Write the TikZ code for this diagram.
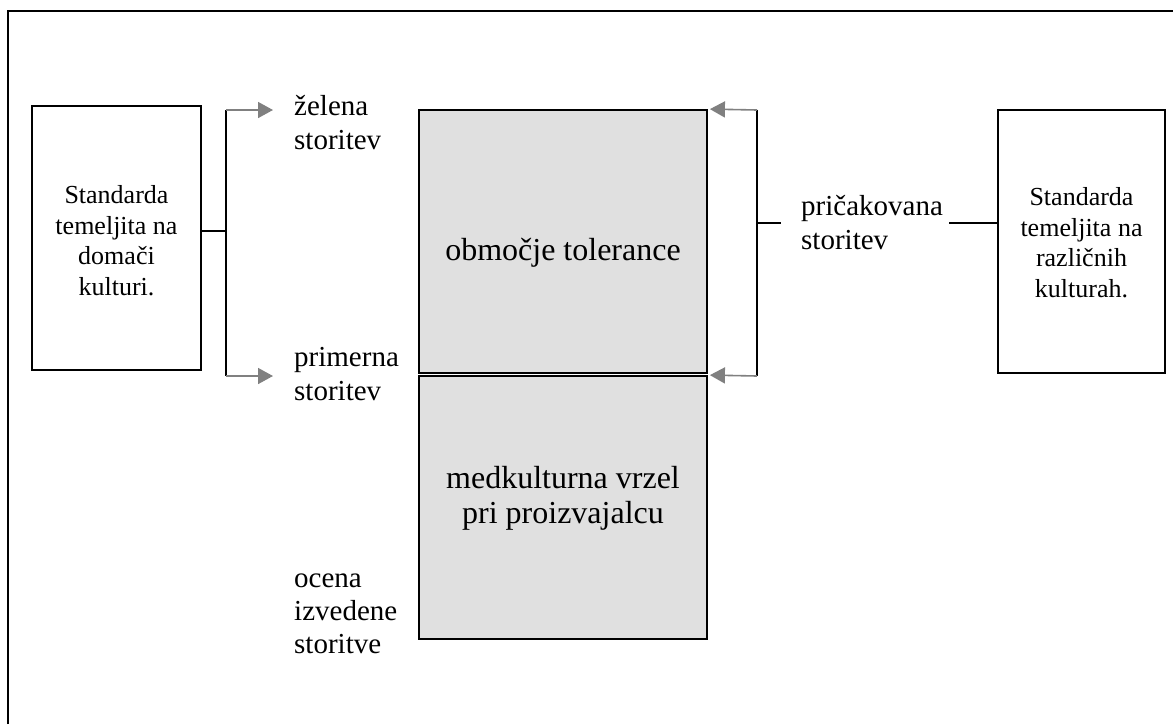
\documentclass[tikz,border=0pt]{standalone}
\usepackage{fontspec}
\setmainfont{Liberation Serif}
\usetikzlibrary{arrows.meta,calc}
\definecolor{zonefill}{RGB}{224,224,224}
\definecolor{arrowgray}{RGB}{128,128,128}
\tikzset{
  box/.style={draw=black, line width=1.8pt, inner sep=0pt, align=center},
  zone/.style={draw=black, line width=1.8pt, fill=zonefill, inner sep=0pt},
  boxtext/.style={font=\fontsize{26}{30.5}\selectfont, align=center, inner sep=0pt},
  sidetext/.style={font=\fontsize{29}{34}\selectfont, align=left, inner sep=0pt, anchor=base west},
  zonetext/.style={font=\fontsize{32}{35}\selectfont, align=center, inner sep=0pt, anchor=base},
  link/.style={draw=black, line width=1.8pt},
  feed/.style={draw=arrowgray, line width=1.6pt, -{Triangle[length=15pt,width=16pt]}},
}
\begin{document}
\begin{tikzpicture}[x=1pt,y=-1pt]
\useasboundingbox (0,0) rectangle (1173,724);
% outer frame (only top and left edges fall inside the page)
\draw[line width=2pt] (8,724) -- (8,11) -- (1173,11);

% side boxes (text anchored at the baseline of its last line)
\node[box, minimum width=169pt, minimum height=264pt] (lbox) at (116.5,238) {};
\node[boxtext, anchor=base] (ltxt) at (116.5,295) {Standarda\\temeljita na\\domači\\kulturi.};
\node[box, minimum width=167pt, minimum height=263pt] (rbox) at (1081.5,241.5) {};
\node[boxtext, anchor=base] (rtxt) at (1081.5,297) {Standarda\\temeljita na\\različnih\\kulturah.};

% central zones
\node[zone, minimum width=288pt, minimum height=263pt] (tol) at (563,241.5) {};
\node[zonetext] (toltxt) at (563,260) {območje tolerance};
\node[zone, minimum width=288pt, minimum height=263pt] (gap) at (563,507.5) {};
\node[zonetext] (gaptxt) at (563,523) {medkulturna vrzel\\pri proizvajalcu};

% service levels
\node[sidetext] (zel) at (294,149) {želena\\storitev};
\node[sidetext] (prim) at (294,400) {primerna\\storitev};
\node[sidetext, font=\fontsize{29}{33}\selectfont] (ocena) at (294,653) {ocena\\izvedene\\storitve};
\node[sidetext] (prič) at (801,249) {pričakovana\\storitev};

% left bracket
\coordinate (lj) at (226,231);
\coordinate (ltop) at (226,110);
\coordinate (lbot) at (226,376);
\coordinate (ltopend) at (273,110);
\coordinate (lbotend) at (273,376);
\draw[link] (lbox.east |- lj) -- (lj);
\draw[link] (ltop) -- (lbot);
\draw[feed] (ltop) -- (ltopend);
\draw[feed] (lbot) -- (lbotend);

% right bracket
\coordinate (rtop) at (757,110);
\coordinate (rbot) at (757,376);
\coordinate (rj) at (757,223);
\coordinate (rjend) at (781,223);
\coordinate (rboxj) at (949,223);
\draw[link] (rtop) -- (rbot);
\draw[feed] (rtop) -- ($(tol.north east)+(2,0)$);
\draw[feed] (rbot) -- ($(gap.north east)+(2,0)$);
\draw[link] (rj) -- (rjend);
\draw[link] (rboxj) -- (rbox.west |- rboxj);
\end{tikzpicture}
\end{document}
